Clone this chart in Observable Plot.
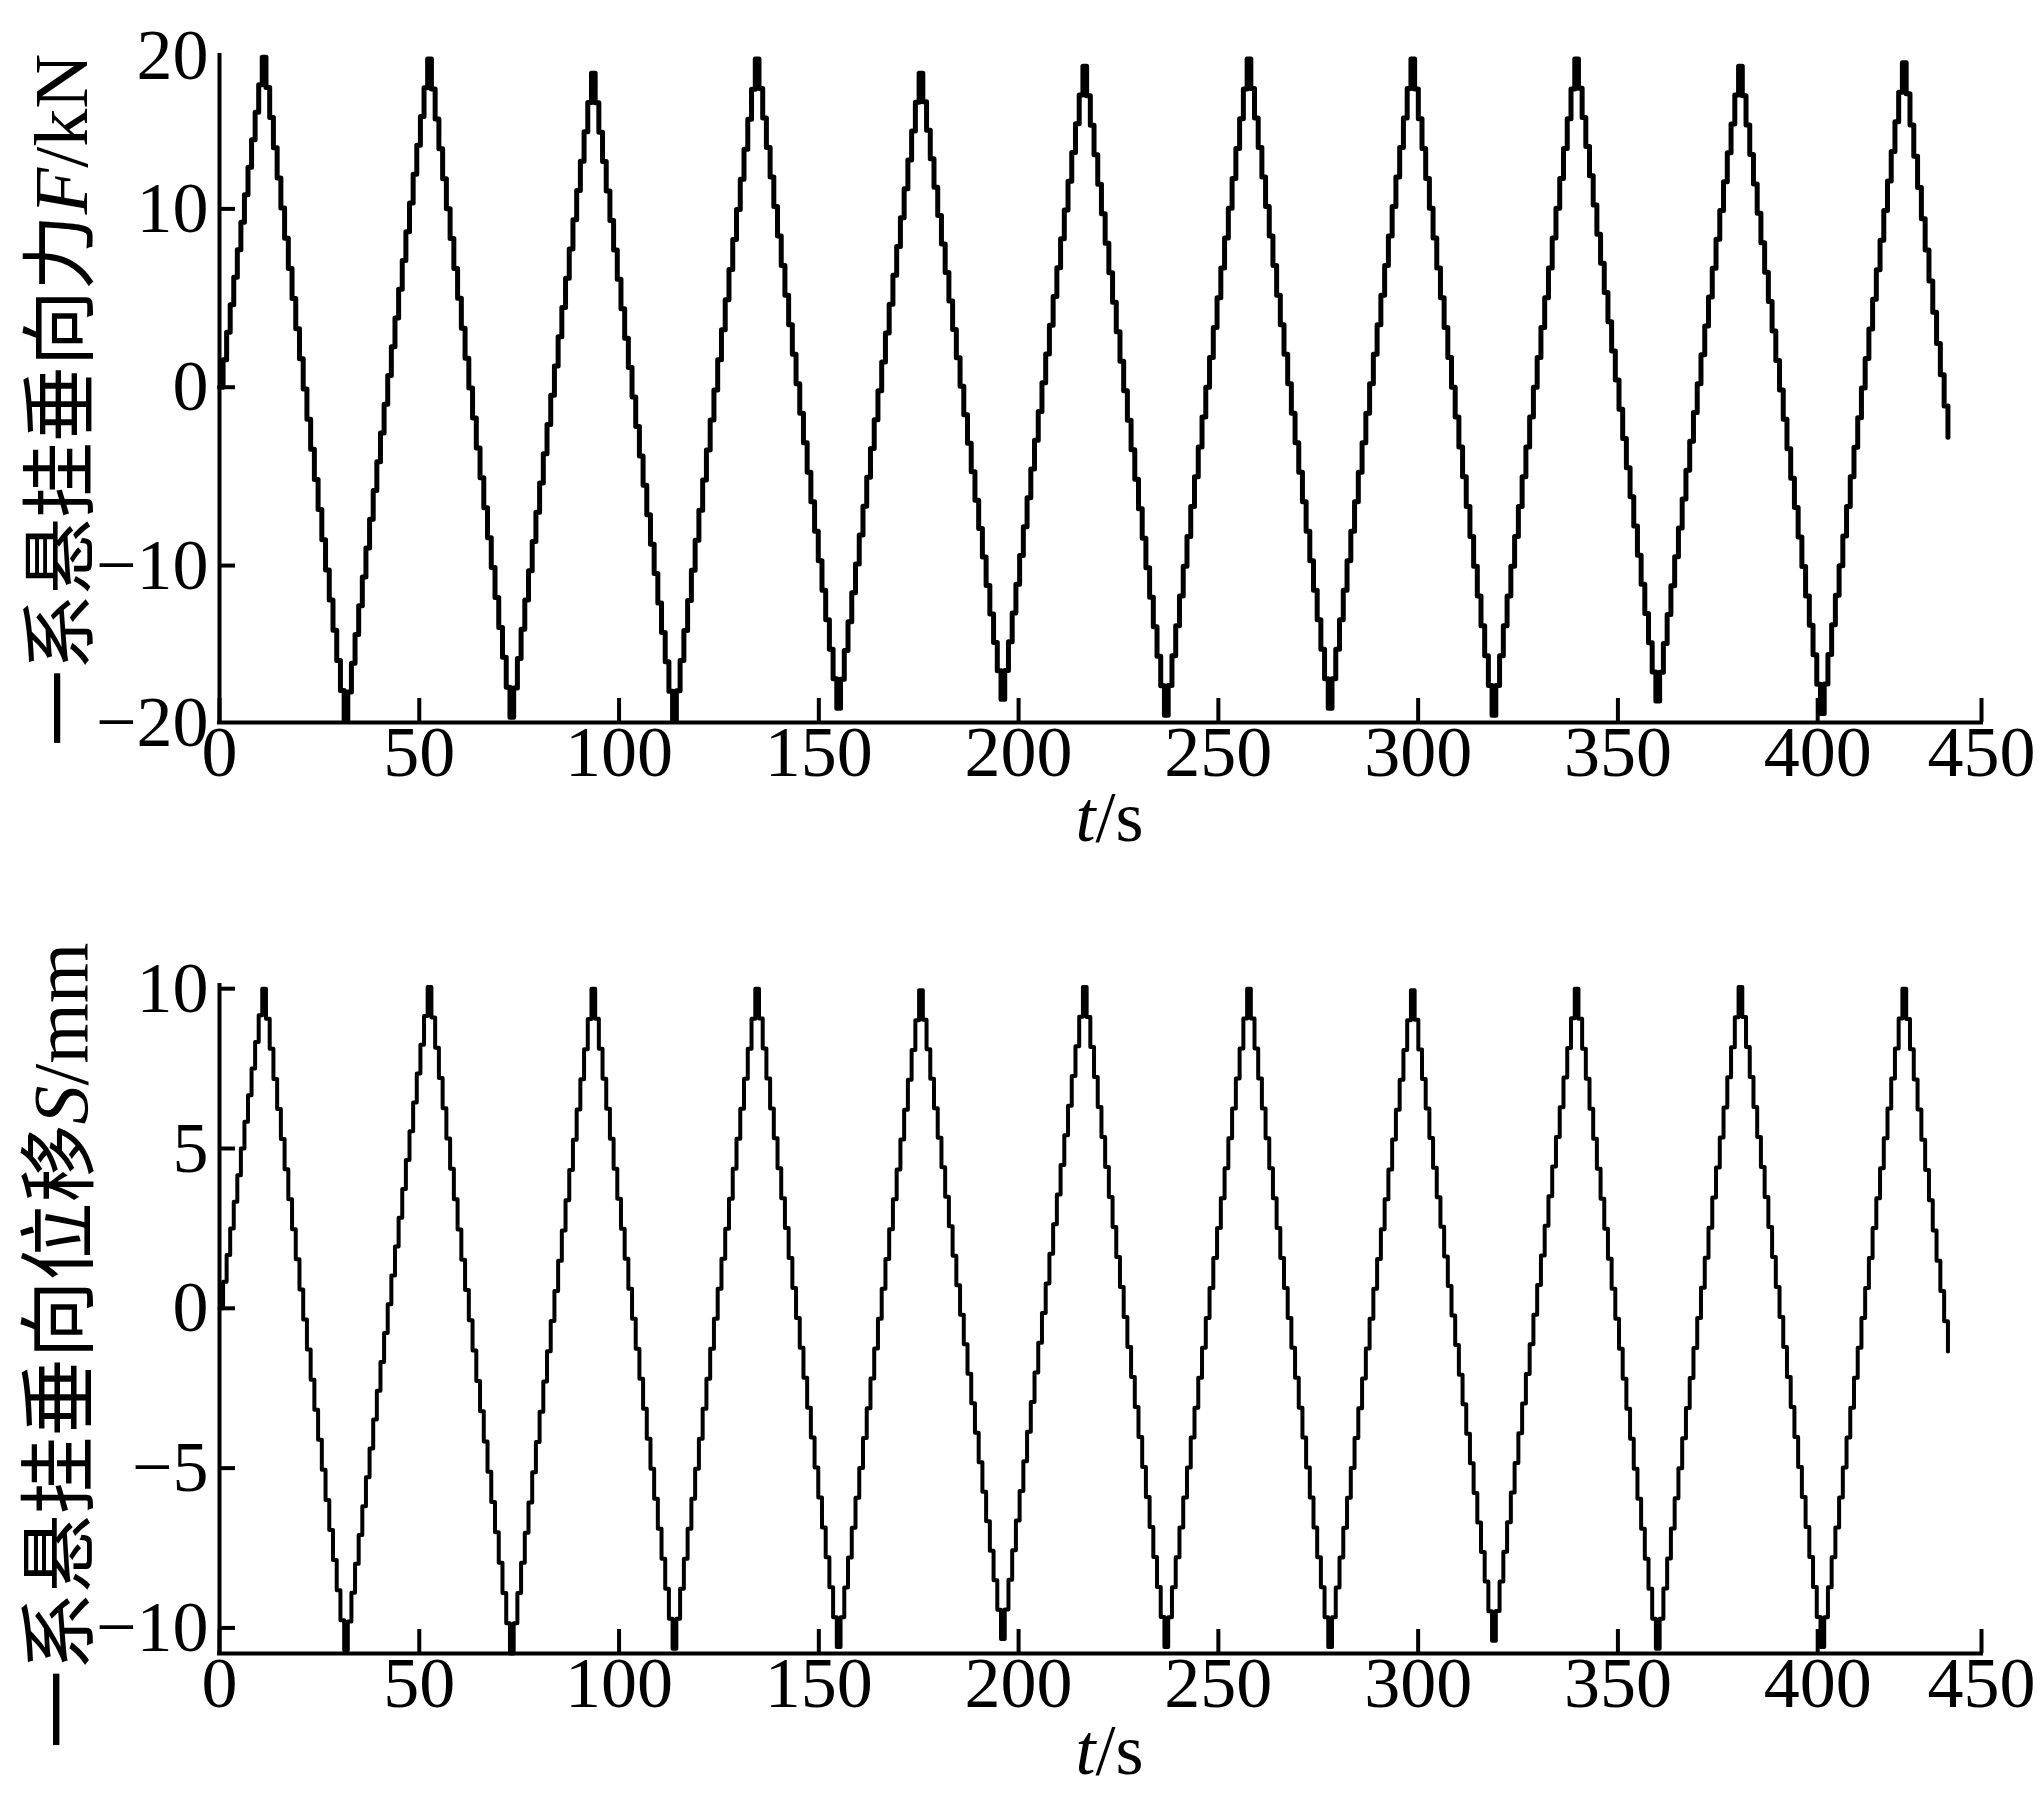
<!DOCTYPE html>
<html>
<head>
<meta charset="utf-8">
<script src="https://cdn.jsdelivr.net/npm/d3@7"></script>
<script src="https://cdn.jsdelivr.net/npm/@observablehq/plot@0.6"></script>
<style>
  html, body { margin: 0; padding: 0; background: #fff; }
  #chart { width: 2041px; }
  #chart svg { display: block; }
</style>
</head>
<body>
<div id="chart"></div>
<script>
// ---- data (vertices: start, peaks, troughs, end) ----
const timeS   = [0, 10.7, 31.2, 52.1, 72.7, 93.1, 113.4, 134.1, 154.5, 175.1, 195.6, 216.1, 236.5, 257.2, 277.5, 298.2, 318.5, 339.2, 359.5, 380.2, 400.7, 421.2, 432.6];
const forceKN = [0, 18.5, -18.7, 18.4, -18.5, 17.6, -18.7, 18.4, -18.0, 17.6, -17.5, 18.0, -18.4, 18.4, -18.0, 18.4, -18.4, 18.4, -17.6, 18.0, -18.3, 18.2, -2.8];
const dispMM  = [0, 10.0, -10.7, 10.05, -10.8, 10.0, -10.65, 10.0, -10.6, 9.95, -10.35, 10.05, -10.6, 10.0, -10.6, 9.95, -10.4, 10.0, -10.65, 10.05, -10.6, 10.0, -1.35];

// ---- axes ----
const xDomain     = [0, 441];
const xTicks      = [0, 50, 100, 150, 200, 250, 300, 350, 400, 441];
const xTickLabels = ["0", "50", "100", "150", "200", "250", "300", "350", "400", "450"];

const forceDomain    = [-18.8, 18.6];
const forceTicks     = [-10, 0, 10];
const forceEndLabels = ["−20", "20"];   // labels at the two ends of the force axis

const dispDomain = [-10.8, 10.1];
const dispTicks  = [-10, -5, 0, 5, 10];

const forceTitle = ["一系悬挂垂向力", "F", "/kN"];
const dispTitle  = ["一系悬挂垂向位移", "S", "/mm"];
const xTitle     = ["t", "/s"];

// line style: the recorded signal is drawn as a fine staircase (step width in px)
function staircase(stepPx) {
  return (context) => {
    let x0, y0, first;
    return {
      areaStart() {}, areaEnd() {},
      lineStart() { first = true; },
      lineEnd() {},
      point(x, y) {
        x = +x; y = +y;
        if (first) { context.moveTo(x, y); first = false; }
        else {
          const n = Math.max(1, Math.round(Math.abs(x - x0) / stepPx));
          let py = y0;
          for (let i = 1; i <= n; i++) {
            const xi = x0 + (x - x0) * i / n;
            const yi = y0 + (y - y0) * i / n;
            context.lineTo(xi, py);
            context.lineTo(xi, yi);
            py = yi;
          }
        }
        x0 = x; y0 = y;
      }
    };
  };
}

const SERIF = "'Liberation Serif', 'Times New Roman', serif";
const CJK = "'Noto Sans CJK SC', sans-serif";

function panel(o) {
  const data = timeS.map((t, i) => ({t, v: o.values[i]}));
  const marks = [
    Plot.ruleX([xDomain[0]], {stroke: "black", strokeWidth: 4, strokeLinecap: "square"}),
    Plot.ruleY([o.yDomain[0]], {stroke: "black", strokeWidth: 4, strokeLinecap: "square"}),
    // x ticks (inward) and labels
    Plot.axisX({ticks: xTicks, tickSize: -24, tickFormat: () => "", strokeWidth: 4, label: null}),
    Plot.axisX({ticks: xTicks, tickSize: 0, tickPadding: 2, label: null, fontSize: 72,
      tickFormat: d => xTickLabels[xTicks.indexOf(d)]}),
    // y ticks (inward) and labels
    Plot.axisY({ticks: o.yTicks, tickSize: -16, tickFormat: () => "", strokeWidth: 4, label: null}),
    Plot.axisY({ticks: o.yTicks, tickSize: 0, tickPadding: 11, label: null, fontSize: 72,
      tickFormat: d => (d < 0 ? "−" : "") + Math.abs(d)})
  ];
  if (o.endLabels) {
    marks.push(Plot.axisY({ticks: o.yDomain, tickSize: 0, tickPadding: 11, label: null, fontSize: 72,
      tickFormat: d => o.endLabels[o.yDomain.indexOf(d)]}));
  }
  const yTitleText = o.title.join("");
  const xTitleText = xTitle.join("");
  marks.push(
    Plot.line(data, {x: "t", y: "v", curve: staircase(3.7), stroke: "black",
      strokeWidth: o.strokeWidth, strokeLinejoin: "round", strokeLinecap: "round"}),
    Plot.text([yTitleText], {frameAnchor: "left", textAnchor: "middle", rotate: -90, dx: -157, dy: o.titleDy,
      fontSize: o.titleSize, fill: "black"}),
    Plot.text([xTitleText], {frameAnchor: "bottom", textAnchor: "middle", dx: 9, dy: o.xTitleDy, lineAnchor: "bottom",
      fontSize: 72, fill: "black"})
  );
  const svg = Plot.plot({
    width: 2041,
    height: o.height,
    marginLeft: 219,
    marginRight: 60,
    marginTop: o.marginTop,
    marginBottom: o.marginBottom,
    style: {fontFamily: SERIF, fontSize: "72px", background: "white", color: "black", overflow: "visible"},
    x: {domain: xDomain, label: null},
    y: {domain: o.yDomain, label: null},
    marks
  });
  // rich text for titles (italic variable symbols)
  d3.select(svg).selectAll("text").each(function () {
    const t = d3.select(this);
    const s = this.textContent;
    if (s === yTitleText) {
      t.text(null);
      t.append("tspan").attr("font-family", CJK).text(o.title[0]);
      t.append("tspan").attr("font-family", SERIF).attr("font-style", "italic").text(o.title[1]);
      t.append("tspan").attr("font-family", SERIF).text(o.title[2]);
    } else if (s === xTitleText) {
      t.text(null);
      t.append("tspan").attr("font-style", "italic").text(xTitle[0]);
      t.append("tspan").text(xTitle[1]);
    }
  });
  return svg;
}

const root = document.getElementById("chart");
root.append(panel({
  values: forceKN, yDomain: forceDomain, yTicks: forceTicks, endLabels: forceEndLabels,
  height: 880, marginTop: 55, marginBottom: 158, strokeWidth: 5,
  title: forceTitle, titleDy: 11, titleSize: 76, xTitleDy: 118
}));
root.append(panel({
  values: dispMM, yDomain: dispDomain, yTicks: dispTicks, endLabels: null,
  height: 913, marginTop: 105, marginBottom: 140, strokeWidth: 4,
  title: dispTitle, titleDy: 26, titleSize: 78, xTitleDy: 120
}));
</script>
</body>
</html>
